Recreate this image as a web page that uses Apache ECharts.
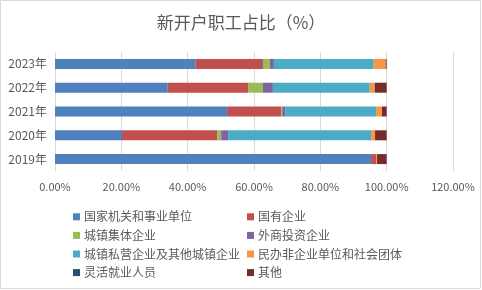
<!DOCTYPE html>
<html>
<head>
<meta charset="utf-8">
<script src="https://cdn.jsdelivr.net/npm/echarts@6/dist/echarts.min.js"></script>
<style>
  html, body { margin: 0; padding: 0; background: #fff; }
  #chart { width: 482px; height: 290px; }
</style>
</head>
<body>
<div id="chart"></div>
<script>
// 年份（自下而上）
var years = ['2019年', '2020年', '2021年', '2022年', '2023年'];
var seriesNames = ['国家机关和事业单位', '国有企业', '城镇集体企业', '外商投资企业',
    '城镇私营企业及其他城镇企业', '民办非企业单位和社会团体', '灵活就业人员', '其他'];
// 各类占比（%），顺序对应 years
var guojia   = [95.3, 20.2, 51.9, 34.0, 42.3];
var guoyou   = [1.5, 28.7, 16.3, 24.2, 20.4];
var jiti     = [0.0, 1.2, 0.3, 4.5, 2.1];
var waishang = [0.0, 2.1, 0.9, 3.0, 1.2];
var siying   = [0.0, 43.1, 27.4, 29.2, 30.1];
var minban   = [0.3, 1.2, 1.8, 1.5, 3.6];
var linghuo  = [0.0, 0.0, 0.0, 0.0, 0.0];
var qita     = [2.9, 3.5, 1.4, 3.6, 0.3];
var xTicks = [0, 20, 40, 60, 80, 100, 120];

var colors = ['#4F81BD', '#C0504D', '#9BBB59', '#8064A2', '#4BACC6', '#F79646', '#2C4D75', '#772C2A'];
var allData = [guojia, guoyou, jiti, waishang, siying, minban, linghuo, qita];

var chart = echarts.init(document.getElementById('chart'));

var series = [];
for (var i = 0; i < seriesNames.length; i++) {
    series.push({
        name: seriesNames[i],
        type: 'bar',
        stack: 'total',
        barWidth: 10,
        itemStyle: { color: colors[i] },
        data: allData[i]
    });
}

function legendCol(left, names) {
    return {
        orient: 'vertical',
        left: left,
        top: 205,
        itemWidth: 7,
        itemHeight: 7,
        itemGap: 5,
        icon: 'rect',
        data: names,
        textStyle: { fontSize: 12, color: '#595959', lineHeight: 13.6, padding: [0, 0, 0, -1], fontFamily: 'Noto Sans CJK SC' }
    };
}

var option = {
    backgroundColor: '#fff',
    textStyle: { fontFamily: 'Noto Sans CJK SC' },
    title: {
        text: '新开户职工占比（%）',
        left: 'center',
        top: 9,
        textStyle: { fontSize: 17, fontWeight: 'normal', color: '#595959', fontFamily: 'Noto Sans CJK SC' }
    },
    legend: [
        legendCol(68, [seriesNames[0], seriesNames[2], seriesNames[4], seriesNames[6]]),
        legendCol(242, [seriesNames[1], seriesNames[3], seriesNames[5], seriesNames[7]])
    ],
    grid: { left: 55, right: 29, top: 52, bottom: 119, containLabel: false },
    xAxis: {
        type: 'value',
        min: xTicks[0],
        max: xTicks[xTicks.length - 1],
        interval: 20,
        axisLine: { show: false },
        axisTick: { show: false },
        axisLabel: {
            color: '#595959', fontSize: 11, margin: 10,
            formatter: function (v) { return v.toFixed(2) + '%'; }
        },
        splitLine: { lineStyle: { color: '#d9d9d9' } }
    },
    yAxis: {
        type: 'category',
        data: years,
        axisLine: { show: false },
        axisTick: { show: false },
        axisLabel: { color: '#595959', fontSize: 12, margin: 8 }
    },
    graphic: [{
        type: 'rect',
        shape: { x: 0.5, y: 0.5, width: 480, height: 288 },
        style: { fill: 'none', stroke: '#d9d9d9', lineWidth: 1 },
        silent: true
    }],
    series: series
};
option && chart.setOption(option);
</script>
</body>
</html>
